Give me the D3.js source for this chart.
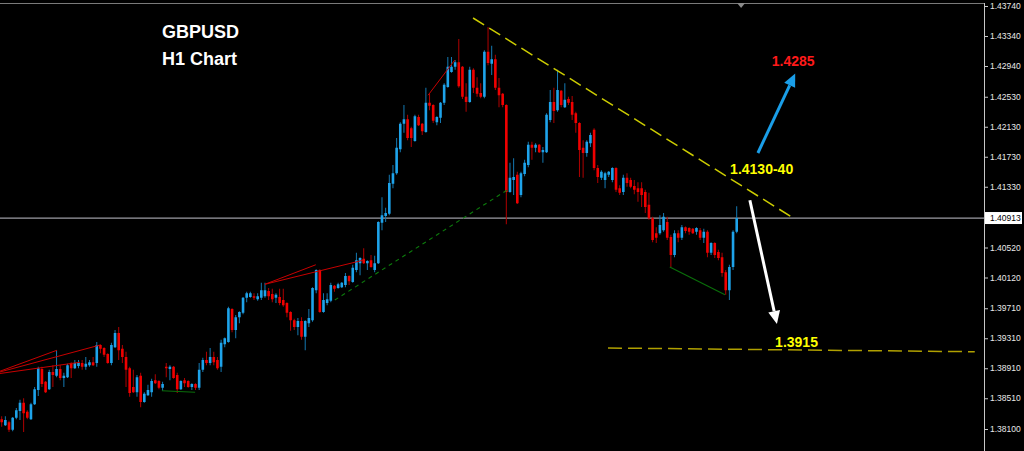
<!DOCTYPE html>
<html><head><meta charset="utf-8">
<script src="https://cdn.jsdelivr.net/npm/d3@7"></script>
<style>html,body{margin:0;padding:0;background:#000;overflow:hidden}</style>
</head><body>
<svg id="chart" width="1024" height="451"></svg>
<script>
// ---- DATA (GBPUSD H1) ----
const opens = [1.3823,1.3815,1.3819,1.3809,1.3825,1.3834,1.3845,1.3833,1.3823,1.3843,1.3862,1.3890,1.3873,1.3863,1.3886,1.3881,1.3890,1.3878,1.3879,1.3897,1.3891,1.3894,1.3898,1.3893,1.3895,1.3899,1.3898,1.3922,1.3918,1.3910,1.3898,1.3919,1.3938,1.3917,1.3906,1.3891,1.3866,1.3859,1.3881,1.3846,1.3855,1.3859,1.3875,1.3874,1.3865,1.3893,1.3890,1.3893,1.3882,1.3863,1.3875,1.3874,1.3866,1.3870,1.3865,1.3889,1.3902,1.3898,1.3906,1.3902,1.3893,1.3923,1.3926,1.3970,1.3942,1.3959,1.3965,1.3985,1.3986,1.3987,1.3983,1.3985,1.3987,1.3994,1.3990,1.3985,1.3986,1.3982,1.3978,1.3966,1.3955,1.3946,1.3954,1.3933,1.3951,1.3955,1.3995,1.4022,1.3966,1.3978,1.3981,1.4001,1.3998,1.3999,1.4002,1.4014,1.4006,1.4022,1.4031,1.4037,1.4031,1.4035,1.4022,1.4031,1.4085,1.4094,1.4097,1.4137,1.4151,1.4183,1.4217,1.4223,1.4211,1.4194,1.4226,1.4217,1.4206,1.4245,1.4242,1.4219,1.4225,1.4245,1.4266,1.4286,1.4293,1.4299,1.4293,1.4253,1.4246,1.4289,1.4265,1.4258,1.4253,1.4313,1.4297,1.4303,1.4265,1.4257,1.4242,1.4126,1.4142,1.4149,1.4122,1.4150,1.4162,1.4189,1.4185,1.4189,1.4179,1.4179,1.4222,1.4246,1.4235,1.4261,1.4239,1.4250,1.4246,1.4231,1.4218,1.4185,1.4178,1.4191,1.4209,1.4158,1.4145,1.4142,1.4149,1.4142,1.4158,1.4131,1.4126,1.4145,1.4142,1.4134,1.4131,1.4131,1.4126,1.4109,1.4091,1.4071,1.4071,1.4075,1.4086,1.4066,1.4042,1.4071,1.4065,1.4079,1.4078,1.4077,1.4073,1.4075,1.4065,1.4073,1.4045,1.4058,1.4046,1.4039,1.4019,1.3995,1.4026,1.4073];
const highs = [1.3827,1.3827,1.3821,1.3826,1.3838,1.3849,1.3851,1.3835,1.3845,1.3866,1.3893,1.3893,1.3874,1.3889,1.3895,1.3915,1.3895,1.3885,1.3897,1.3899,1.3902,1.3902,1.3902,1.3906,1.3902,1.3906,1.3926,1.3923,1.3919,1.3911,1.3925,1.3942,1.3946,1.3922,1.3913,1.3893,1.3889,1.3882,1.3885,1.3859,1.3869,1.3877,1.3883,1.3875,1.3873,1.3898,1.3895,1.3894,1.3885,1.3875,1.3878,1.3875,1.3871,1.3871,1.3898,1.3905,1.3913,1.3918,1.3913,1.3906,1.3929,1.3932,1.3973,1.3971,1.3962,1.3967,1.3986,1.3993,1.3993,1.3991,1.3991,1.4005,1.4005,1.3998,1.3997,1.3991,1.3997,1.3997,1.3979,1.3967,1.3957,1.3958,1.3959,1.3955,1.3970,1.3999,1.4023,1.4023,1.3991,1.3991,1.4005,1.4002,1.4005,1.4006,1.4018,1.4015,1.4029,1.4045,1.4039,1.4051,1.4035,1.4042,1.4041,1.4087,1.4119,1.4105,1.4149,1.4162,1.4198,1.4219,1.4242,1.4229,1.4213,1.4229,1.4229,1.4218,1.4265,1.4257,1.4243,1.4227,1.4246,1.4271,1.4306,1.4306,1.4302,1.4330,1.4294,1.4271,1.4293,1.4291,1.4279,1.4271,1.4315,1.4346,1.4321,1.4309,1.4278,1.4258,1.4243,1.4165,1.4171,1.4153,1.4153,1.4169,1.4193,1.4193,1.4191,1.4190,1.4186,1.4231,1.4262,1.4265,1.4289,1.4262,1.4271,1.4253,1.4254,1.4233,1.4219,1.4195,1.4195,1.4205,1.4211,1.4162,1.4155,1.4153,1.4154,1.4159,1.4159,1.4135,1.4149,1.4151,1.4145,1.4142,1.4139,1.4139,1.4129,1.4125,1.4093,1.4079,1.4095,1.4098,1.4093,1.4069,1.4075,1.4075,1.4082,1.4080,1.4079,1.4078,1.4079,1.4078,1.4077,1.4075,1.4059,1.4059,1.4049,1.4045,1.4022,1.4029,1.4075,1.4107];
const lows = [1.3813,1.3814,1.3806,1.3807,1.3823,1.3822,1.3806,1.3823,1.3822,1.3842,1.3854,1.3866,1.3858,1.3862,1.3866,1.3879,1.3875,1.3866,1.3878,1.3878,1.3890,1.3891,1.3889,1.3889,1.3893,1.3894,1.3893,1.3911,1.3906,1.3897,1.3895,1.3918,1.3902,1.3898,1.3866,1.3853,1.3858,1.3853,1.3839,1.3845,1.3854,1.3853,1.3870,1.3863,1.3861,1.3879,1.3875,1.3877,1.3858,1.3862,1.3866,1.3865,1.3862,1.3862,1.3862,1.3886,1.3895,1.3895,1.3895,1.3889,1.3886,1.3919,1.3925,1.3939,1.3931,1.3951,1.3963,1.3979,1.3985,1.3982,1.3981,1.3982,1.3985,1.3982,1.3979,1.3978,1.3975,1.3973,1.3959,1.3941,1.3942,1.3935,1.3929,1.3915,1.3946,1.3953,1.3991,1.3965,1.3965,1.3975,1.3979,1.3993,1.3997,1.3998,1.3999,1.4002,1.4005,1.4019,1.4015,1.4030,1.4022,1.4025,1.4019,1.4030,1.4075,1.4086,1.4095,1.4131,1.4149,1.4179,1.4205,1.4195,1.4186,1.4193,1.4214,1.4202,1.4205,1.4235,1.4218,1.4215,1.4218,1.4242,1.4265,1.4285,1.4289,1.4265,1.4250,1.4233,1.4245,1.4258,1.4253,1.4251,1.4251,1.4295,1.4282,1.4262,1.4239,1.4239,1.4083,1.4125,1.4122,1.4110,1.4119,1.4147,1.4159,1.4169,1.4179,1.4178,1.4165,1.4178,1.4219,1.4218,1.4233,1.4239,1.4238,1.4242,1.4222,1.4205,1.4146,1.4145,1.4173,1.4186,1.4155,1.4138,1.4142,1.4131,1.4146,1.4139,1.4126,1.4122,1.4122,1.4133,1.4131,1.4123,1.4113,1.4106,1.4098,1.4089,1.4059,1.4058,1.4069,1.4073,1.4062,1.4026,1.4039,1.4059,1.4062,1.4071,1.4069,1.4070,1.4069,1.4062,1.4058,1.4039,1.4042,1.4038,1.4035,1.4013,1.3989,1.3982,1.4022,1.4071];
const closes = [1.3819,1.3822,1.3809,1.3825,1.3835,1.3845,1.3831,1.3825,1.3843,1.3863,1.3891,1.3870,1.3859,1.3886,1.3882,1.3890,1.3878,1.3881,1.3895,1.3891,1.3898,1.3898,1.3893,1.3897,1.3899,1.3895,1.3922,1.3917,1.3909,1.3898,1.3922,1.3938,1.3915,1.3906,1.3889,1.3858,1.3859,1.3879,1.3846,1.3857,1.3862,1.3874,1.3871,1.3865,1.3870,1.3891,1.3893,1.3878,1.3863,1.3874,1.3871,1.3866,1.3870,1.3865,1.3889,1.3902,1.3898,1.3906,1.3899,1.3891,1.3925,1.3931,1.3971,1.3942,1.3959,1.3966,1.3985,1.3991,1.3991,1.3985,1.3987,1.3995,1.3995,1.3987,1.3983,1.3989,1.3978,1.3975,1.3965,1.3955,1.3946,1.3954,1.3933,1.3954,1.3958,1.3998,1.4022,1.3966,1.3982,1.3983,1.4002,1.3997,1.4003,1.4005,1.4014,1.4007,1.4025,1.4035,1.4038,1.4031,1.4034,1.4026,1.4031,1.4086,1.4095,1.4098,1.4138,1.4151,1.4185,1.4217,1.4223,1.4198,1.4198,1.4227,1.4215,1.4207,1.4245,1.4241,1.4221,1.4226,1.4245,1.4269,1.4293,1.4293,1.4299,1.4267,1.4253,1.4246,1.4289,1.4265,1.4257,1.4253,1.4313,1.4298,1.4303,1.4265,1.4255,1.4242,1.4126,1.4145,1.4146,1.4111,1.4151,1.4165,1.4189,1.4185,1.4189,1.4179,1.4182,1.4229,1.4246,1.4234,1.4262,1.4242,1.4249,1.4245,1.4229,1.4218,1.4182,1.4178,1.4193,1.4202,1.4158,1.4146,1.4153,1.4151,1.4153,1.4158,1.4129,1.4125,1.4145,1.4138,1.4133,1.4129,1.4126,1.4122,1.4106,1.4091,1.4062,1.4065,1.4082,1.4093,1.4065,1.4042,1.4071,1.4065,1.4079,1.4074,1.4073,1.4071,1.4078,1.4065,1.4073,1.4045,1.4058,1.4042,1.4038,1.4018,1.3995,1.4026,1.4073,1.40913];
const yTickValues = [1.43740,1.43340,1.42940,1.42530,1.42130,1.41730,1.41330,1.40520,1.40120,1.39710,1.39310,1.38910,1.38510,1.38100];
const lastPrice = 1.40913;
const symbol = "GBPUSD";
const timeframe = "H1 Chart";
// overlays: [index, price] pairs
const redLines = [
  [[-0.5,1.3887],[15.1,1.3915]],
  [[-0.5,1.3886],[26.9,1.3922]],
  [[-0.5,1.3884],[21.4,1.3899]],
  [[72.0,1.4003],[85.9,1.4029]],
  [[72.0,1.4003],[98.8,1.4035]],
  [[116.6,1.4255],[123.9,1.4302]]
];
const greenSolid = [
  [[43.8,1.3861],[52.9,1.3859]],
  [[182.7,1.4026],[197.8,1.3989]]
];
const greenDashed = [[91.1,1.3982],[139.0,1.4131]];
const resistanceLine = [[128.9,1.4358],[216.9,1.4090]];
const supportLine = [[165.8,1.3918],[266.1,1.3913]];
const upArrow = [[206.8,1.4178],[217.0,1.4284]];
const downArrow = [[204.6,1.4115],[212.0,1.3950]];
const labels = [
  {i:210.6, p:1.4294, text:"1.4285", color:"#ff1a1a"},
  {i:199.2, p:1.4150, text:"1.4130-40", color:"#ffff00"},
  {i:211.5, p:1.3919, text:"1.3915", color:"#ffff00"}
];
const shiftMarkerIndex = 202.2;

// ---- DRAWING ----
const W = 1024, H = 451, plotRight = 984;
const svg = d3.select("#chart");
svg.append("rect").attr("width", W).attr("height", H).attr("fill", "#000");

const x = d3.scaleLinear().domain([0, opens.length - 1]).range([1.7, 736.7]);
const y = d3.scaleLinear().domain([1.4382, 1.4382 - 451/7500]).range([0, 451]);
const line = d3.line().x(d => x(d[0])).y(d => y(d[1]));

// frame
svg.append("line").attr("x1", 0).attr("x2", plotRight).attr("y1", 3.5).attr("y2", 3.5)
  .attr("stroke", "#7a7a7a").attr("stroke-width", 1);

// current price line
svg.append("line").attr("x1", 0).attr("x2", plotRight)
  .attr("y1", y(lastPrice)).attr("y2", y(lastPrice))
  .attr("stroke", "#9c9ca4").attr("stroke-width", 1.2);

// candles
const data = opens.map((o, i) => ({i, o, h: highs[i], l: lows[i], c: closes[i]}));
const bw = 2.6;
const g = svg.append("g");
g.selectAll("line.wick").data(data).join("line")
  .attr("class", "wick")
  .attr("x1", d => x(d.i)).attr("x2", d => x(d.i))
  .attr("y1", d => y(d.h)).attr("y2", d => y(d.l))
  .attr("stroke", d => d.c >= d.o ? "#1479b2" : "#b00000").attr("stroke-width", 1);
g.selectAll("rect.body").data(data).join("rect")
  .attr("class", "body")
  .attr("x", d => x(d.i) - bw/2).attr("width", bw)
  .attr("y", d => y(Math.max(d.o, d.c)))
  .attr("height", d => Math.max(1, Math.abs(y(d.o) - y(d.c))))
  .attr("fill", d => d.c >= d.o ? "#1ea3ea" : "#f00000");

// red zigzag lines
svg.selectAll("path.red").data(redLines).join("path").attr("class", "red")
  .attr("d", line).attr("fill", "none").attr("stroke", "#c80000").attr("stroke-width", 1);
// green lines
svg.selectAll("path.grn").data(greenSolid).join("path").attr("class", "grn")
  .attr("d", line).attr("fill", "none").attr("stroke", "#0a6e0a").attr("stroke-width", 1.2);
svg.append("path").attr("d", line(greenDashed)).attr("fill", "none")
  .attr("stroke", "#0c7a0c").attr("stroke-width", 1.1).attr("stroke-dasharray", "4,4");

// yellow dashed lines
svg.append("path").attr("d", line(resistanceLine)).attr("fill", "none")
  .attr("stroke", "#cccc00").attr("stroke-width", 1.5).attr("stroke-dasharray", "13,6");
svg.append("path").attr("d", line(supportLine)).attr("fill", "none")
  .attr("stroke", "#b0a000").attr("stroke-width", 1.5).attr("stroke-dasharray", "14,6");

// arrows
function arrow(pts, color) {
  const x1 = x(pts[0][0]), y1 = y(pts[0][1]), x2 = x(pts[1][0]), y2 = y(pts[1][1]);
  const ang = Math.atan2(y2 - y1, x2 - x1);
  const len = 13, half = 6;
  const bx = x2 - len * Math.cos(ang), by = y2 - len * Math.sin(ang);
  svg.append("line").attr("x1", x1).attr("y1", y1).attr("x2", bx).attr("y2", by)
    .attr("stroke", color).attr("stroke-width", 3);
  const px = -Math.sin(ang), py = Math.cos(ang);
  svg.append("polygon").attr("points", [
    [x2, y2], [bx + px*half, by + py*half], [bx - px*half, by - py*half]
  ].map(p => p.join(",")).join(" ")).attr("fill", color);
}
arrow(upArrow, "#1a9ee8");
arrow(downArrow, "#ffffff");

// labels
svg.selectAll("text.lbl").data(labels).join("text").attr("class", "lbl")
  .attr("x", d => x(d.i)).attr("y", d => y(d.p))
  .attr("fill", d => d.color).attr("font-family", "Liberation Sans, Arial, sans-serif")
  .attr("font-weight", "bold").attr("font-size", 14).text(d => d.text);

// title
svg.append("text").attr("x", 162).attr("y", 38).text(symbol)
  .attr("fill", "#fff").attr("font-family", "Liberation Sans, Arial, sans-serif")
  .attr("font-weight", "bold").attr("font-size", 18);
svg.append("text").attr("x", 162).attr("y", 65).text(timeframe)
  .attr("fill", "#fff").attr("font-family", "Liberation Sans, Arial, sans-serif")
  .attr("font-weight", "bold").attr("font-size", 18);

// shift marker
const sx = x(shiftMarkerIndex);
svg.append("polygon").attr("points", `${sx-4},3 ${sx+4},3 ${sx},8`).attr("fill", "#8a8a8a");

// right axis
const axis = d3.axisRight(y).tickValues(yTickValues).tickSize(4).tickSizeOuter(0)
  .tickPadding(2).tickFormat(d3.format(".5f"));
const ag = svg.append("g").attr("transform", `translate(${plotRight},0)`).call(axis);
ag.select(".domain").remove();
ag.selectAll(".tick line").attr("stroke", "#c8c8c8");
ag.selectAll(".tick text").attr("fill", "#e8e8e8")
  .attr("font-family", "Liberation Sans, Arial, sans-serif").attr("font-size", 8.5);
svg.append("line").attr("x1", plotRight + 0.5).attr("x2", plotRight + 0.5)
  .attr("y1", 3).attr("y2", H).attr("stroke", "#c8c8c8").attr("stroke-width", 1);

// last price tag
const ly = y(lastPrice);
svg.append("rect").attr("x", plotRight + 1).attr("y", ly - 6).attr("width", 37).attr("height", 12)
  .attr("fill", "#fff");
svg.append("text").attr("x", plotRight + 6).attr("y", ly).attr("dy", "0.32em")
  .attr("fill", "#000").attr("font-family", "Liberation Sans, Arial, sans-serif")
  .attr("font-size", 8.5).text(d3.format(".5f")(lastPrice));
</script>
</body></html>
